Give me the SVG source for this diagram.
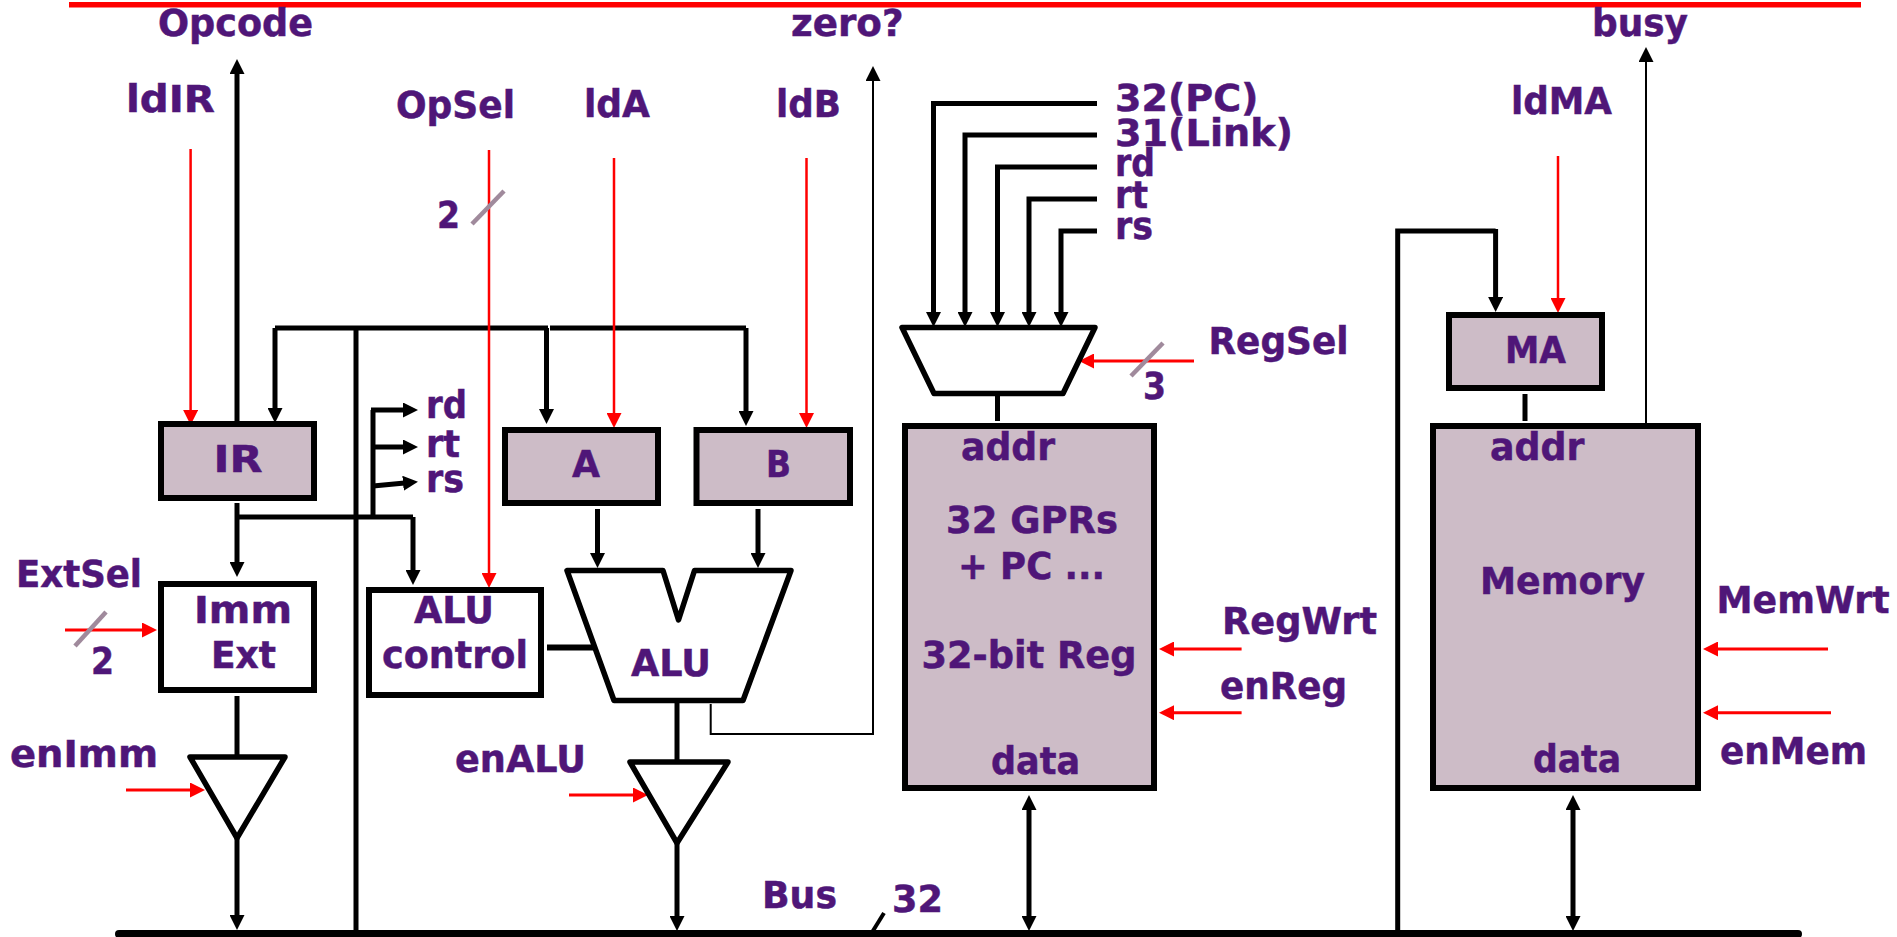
<svg xmlns="http://www.w3.org/2000/svg" width="1897" height="937" viewBox="0 0 1897 937">
<style>
text{font-family:"DejaVu Sans","Verdana",sans-serif;font-weight:700;font-size:37px;fill:#4f1678;stroke:#4f1678;stroke-width:.5;lengthAdjust:spacingAndGlyphs}
.box{fill:#cdbcc7;stroke:#000;stroke-width:6}
.wbox{fill:#fff;stroke:#000;stroke-width:6}
.shape{fill:#fff;stroke:#000;stroke-width:5.500;stroke-linejoin:round}
.k{fill:none;stroke:#000;stroke-width:5;stroke-linecap:butt;stroke-linejoin:miter}
.a{marker-end:url(#ka)}
.t{stroke-width:2}
.r{fill:none;stroke:#f00;stroke-width:2.500;marker-end:url(#ra)}
.r3{stroke-width:3}
.s{fill:none;stroke:#a08a9c;stroke-width:4.500}
</style>
<defs>
<marker id="ka" markerUnits="userSpaceOnUse" viewBox="0 0 15 15" markerWidth="15" markerHeight="15" refX="7" refY="7.500" orient="auto-start-reverse"><path d="M0 0L15 7.500L0 15z" fill="#000"/></marker>
<marker id="ra" markerUnits="userSpaceOnUse" viewBox="0 0 15 15" markerWidth="15" markerHeight="15" refX="7" refY="7.500" orient="auto"><path d="M0 0L15 7.500L0 15z" fill="#f00"/></marker>
</defs>
<rect x="69" y="2" width="1792" height="5.500" fill="#f00"/>
<g id="connectors">
<path class="k a" d="M237 421V67"/>
<path class="k" d="M275 328H548M550 328H746"/>
<path class="k a" d="M275 328V415"/>
<path class="k a" d="M546.500 328V416"/>
<path class="k a" d="M746 328V418"/>
<path class="k" d="M356 328V933"/>
<path class="k" d="M373 518V410"/>
<path class="k a" d="M371 410H410"/>
<path class="k a" d="M373 447H410"/>
<path class="k a" d="M373 486L410 482.500"/>
<path class="k a" d="M237 503V569"/>
<path class="k" d="M235 517H413"/>
<path class="k a" d="M413 517V577"/>
<path class="k a" d="M597.500 509V560"/>
<path class="k a" d="M758 509V560"/>
<path class="k" style="stroke-width:6" d="M547 647.500H594"/>
<path class="k" d="M677 702V762"/>
<path class="k" d="M237 696V757"/>
<path class="k a" d="M237 838V922"/>
<path class="k a" d="M677 843V923"/>
<path class="k t a" d="M710.700 704V734H873V74"/>
<path class="k t a" d="M1646 423V55"/>
<path class="k a" d="M1097 103.500H933.500V319"/>
<path class="k a" d="M1097 135H965V319"/>
<path class="k a" d="M1097 167H997.500V319"/>
<path class="k a" d="M1097 199H1029V319"/>
<path class="k a" d="M1097 231H1061V319"/>
<path class="k" d="M997.500 396V421"/>
<path class="k" d="M1525 394V421"/>
<path class="k" d="M1397.700 933V231H1495.600"/>
<path class="k a" d="M1495.600 229V304"/>
<path class="k a" style="marker-start:url(#ka)" d="M1029 803V923"/>
<path class="k a" style="marker-start:url(#ka)" d="M1573 803V923"/>
<path class="k" d="M884 913L871 934" style="stroke-width:4"/>
<line x1="119" y1="934" x2="1798" y2="934" stroke="#000" stroke-width="8" stroke-linecap="round"/>
<path class="r" d="M190.600 149V417"/>
<path class="r" d="M489 150V580"/>
<path class="r" d="M614 158V420"/>
<path class="r" d="M806.500 158V420"/>
<path class="r" d="M1558 156V305"/>
<path class="r r3" d="M65 630H149"/>
<path class="r r3" d="M126 790H197"/>
<path class="r r3" d="M569 795H640"/>
<path class="r r3" d="M1194 361H1087"/>
<path class="r r3" d="M1241.600 649H1167"/>
<path class="r r3" d="M1241.600 712.700H1167"/>
<path class="r r3" d="M1828 649H1711"/>
<path class="r r3" d="M1831 712.700H1711"/>
<path class="s" d="M504 191L472 224"/>
<path class="s" d="M106 612L75 646"/>
<path class="s" d="M1163 343L1131 376"/>
</g>
<g id="ir"><rect class="box" x="161" y="424" width="153" height="74"/><text x="213.500" y="472" textLength="49" lengthAdjust="spacingAndGlyphs">IR</text></g>
<g id="a"><rect class="box" x="505" y="430" width="153" height="73"/><text x="572" y="477" textLength="28" lengthAdjust="spacingAndGlyphs">A</text></g>
<g id="b"><rect class="box" x="696.500" y="430" width="153.500" height="73"/><text x="766" y="477" textLength="25" lengthAdjust="spacingAndGlyphs">B</text></g>
<g id="immext"><rect class="wbox" x="161" y="584" width="153" height="106"/><text x="194" y="623" textLength="98" lengthAdjust="spacingAndGlyphs">Imm</text><text x="211" y="668" textLength="65" lengthAdjust="spacingAndGlyphs">Ext</text></g>
<g id="alucontrol"><rect class="wbox" x="369" y="590" width="172" height="105"/><text x="414" y="623" textLength="80" lengthAdjust="spacingAndGlyphs">ALU</text><text x="382" y="668" textLength="146" lengthAdjust="spacingAndGlyphs">control</text></g>
<g id="alu"><path class="shape" d="M567 570.500H663L678.500 620L694.500 570.500H791L743 700.500H614z"/><text x="631" y="676" textLength="80" lengthAdjust="spacingAndGlyphs">ALU</text></g>
<g id="immbuf"><path class="shape" d="M190 757H285L237 838z"/></g>
<g id="alubuf"><path class="shape" d="M630 762H728L677 843z"/></g>
<g id="regmux"><path class="shape" d="M902 327.500H1095L1063 393.500H934z"/></g>
<g id="gprs"><rect class="box" x="905" y="426" width="249" height="362"/><text x="961" y="460" textLength="94" lengthAdjust="spacingAndGlyphs">addr</text><text x="946" y="533" textLength="172" lengthAdjust="spacingAndGlyphs">32 GPRs</text><text x="958" y="579" textLength="147" lengthAdjust="spacingAndGlyphs">+ PC ...</text><text x="921.500" y="668" textLength="215" lengthAdjust="spacingAndGlyphs">32-bit Reg</text><text x="991" y="774" textLength="89" lengthAdjust="spacingAndGlyphs">data</text></g>
<g id="ma"><rect class="box" x="1449" y="315" width="153" height="73"/><text x="1505" y="363" textLength="61" lengthAdjust="spacingAndGlyphs">MA</text></g>
<g id="memory"><rect class="box" x="1433" y="426" width="265" height="362"/><text x="1490" y="460" textLength="94.500" lengthAdjust="spacingAndGlyphs">addr</text><text x="1480" y="594" textLength="165" lengthAdjust="spacingAndGlyphs">Memory</text><text x="1533" y="772" textLength="88" lengthAdjust="spacingAndGlyphs">data</text></g>
<g id="labels">
<text x="158" y="36" textLength="155" lengthAdjust="spacingAndGlyphs">Opcode</text><text x="791" y="36" textLength="112.500" lengthAdjust="spacingAndGlyphs">zero?</text><text x="1592" y="36" textLength="96" lengthAdjust="spacingAndGlyphs">busy</text>
<text x="126" y="112" textLength="89" lengthAdjust="spacingAndGlyphs">ldIR</text><text x="396" y="118" textLength="119" lengthAdjust="spacingAndGlyphs">OpSel</text><text x="584" y="117" textLength="66" lengthAdjust="spacingAndGlyphs">ldA</text><text x="776" y="117" textLength="65" lengthAdjust="spacingAndGlyphs">ldB</text>
<text x="437" y="228" textLength="23" lengthAdjust="spacingAndGlyphs">2</text><text x="426" y="418" textLength="41" lengthAdjust="spacingAndGlyphs">rd</text><text x="426" y="457" textLength="34" lengthAdjust="spacingAndGlyphs">rt</text><text x="426" y="492" textLength="38" lengthAdjust="spacingAndGlyphs">rs</text>
<text x="16" y="587" textLength="126" lengthAdjust="spacingAndGlyphs">ExtSel</text><text x="91" y="674" textLength="23" lengthAdjust="spacingAndGlyphs">2</text><text x="10" y="767" textLength="148" lengthAdjust="spacingAndGlyphs">enImm</text><text x="455" y="772" textLength="131" lengthAdjust="spacingAndGlyphs">enALU</text>
<text x="762" y="908" textLength="75" lengthAdjust="spacingAndGlyphs">Bus</text><text x="892" y="912" textLength="51" lengthAdjust="spacingAndGlyphs">32</text>
<text x="1115" y="111" textLength="143.500" lengthAdjust="spacingAndGlyphs">32(PC)</text><text x="1115" y="146" textLength="178" lengthAdjust="spacingAndGlyphs">31(Link)</text><text x="1115" y="176" textLength="40" lengthAdjust="spacingAndGlyphs">rd</text><text x="1115" y="208" textLength="33" lengthAdjust="spacingAndGlyphs">rt</text><text x="1115" y="239" textLength="38" lengthAdjust="spacingAndGlyphs">rs</text>
<text x="1208.500" y="354" textLength="140" lengthAdjust="spacingAndGlyphs">RegSel</text><text x="1143" y="399" textLength="23" lengthAdjust="spacingAndGlyphs">3</text><text x="1511" y="114" textLength="101" lengthAdjust="spacingAndGlyphs">ldMA</text>
<text x="1716.500" y="613" textLength="173" lengthAdjust="spacingAndGlyphs">MemWrt</text><text x="1222" y="634" textLength="155" lengthAdjust="spacingAndGlyphs">RegWrt</text><text x="1220" y="699" textLength="127" lengthAdjust="spacingAndGlyphs">enReg</text><text x="1720" y="764" textLength="147" lengthAdjust="spacingAndGlyphs">enMem</text>
</g>
</svg>
